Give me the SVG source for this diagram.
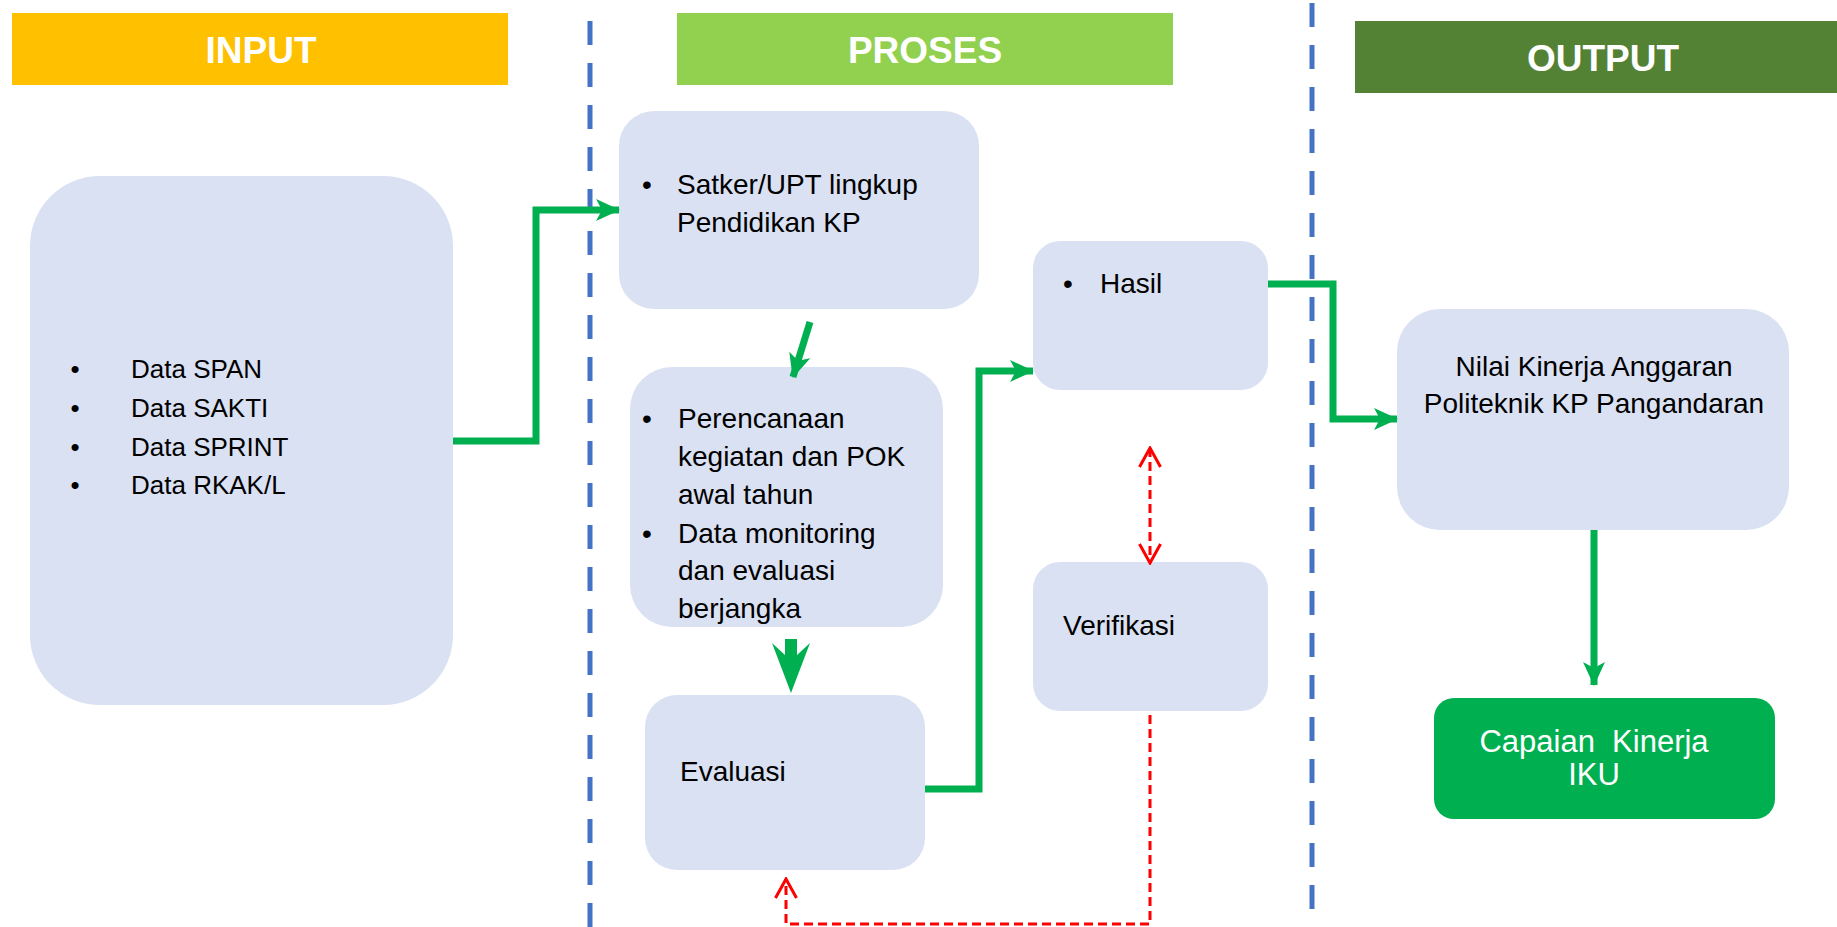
<svg xmlns="http://www.w3.org/2000/svg" width="1837" height="927" viewBox="0 0 1837 927">
<style>
.box{fill:#DAE1F3}
.hdr{font-family:"Liberation Sans",Arial,sans-serif;font-weight:bold;font-size:37px;fill:#fff;text-anchor:middle}
.t{font-family:"Liberation Sans",Arial,sans-serif;font-size:28px;fill:#000}
.ti{font-family:"Liberation Sans",Arial,sans-serif;font-size:26px;fill:#000}
.b{text-anchor:middle}
.g{fill:none;stroke:#00B050;stroke-width:7}
.r{fill:none;stroke:#FF0000;stroke-width:3;stroke-dasharray:9 5}
.sep{stroke:#4472C4;stroke-width:5;stroke-dasharray:24 18}
</style>
<defs>
<marker id="ga" markerUnits="userSpaceOnUse" viewBox="0 0 24 22" refX="23" refY="11" markerWidth="24" markerHeight="22" orient="auto">
<path d="M0,0 L24,11 L0,22 L6,11 Z" fill="#00B050"/>
</marker>
<marker id="ra" markerUnits="userSpaceOnUse" viewBox="0 0 22 24" refX="20" refY="12" markerWidth="22" markerHeight="24" orient="auto-start-reverse">
<path d="M1,1.5 L20,12 L1,22.5" fill="none" stroke="#FF0000" stroke-width="3"/>
</marker>
</defs>
<rect width="1837" height="927" fill="#fff"/>

<g id="separators">
<line class="sep" x1="590" y1="21" x2="590" y2="927"/>
<line class="sep" x1="1312" y1="3" x2="1312" y2="910"/>
</g>

<g id="hdr-input"><rect x="12" y="13" width="496" height="72" fill="#FFC000"/><text class="hdr" x="261" y="63">INPUT</text></g>
<g id="hdr-proses"><rect x="677" y="13" width="496" height="72" fill="#92D050"/><text class="hdr" x="925" y="63">PROSES</text></g>
<g id="hdr-output"><rect x="1355" y="21" width="482" height="72" fill="#548235"/><text class="hdr" x="1603" y="71">OUTPUT</text></g>

<g id="input-box">
<rect class="box" x="30" y="176" width="423" height="529" rx="70" ry="70"/>
<text class="ti b" x="75" y="378">•</text><text class="ti" x="131" y="378">Data SPAN</text>
<text class="ti b" x="75" y="417">•</text><text class="ti" x="131" y="417">Data SAKTI</text>
<text class="ti b" x="75" y="456">•</text><text class="ti" x="131" y="456">Data SPRINT</text>
<text class="ti b" x="75" y="494">•</text><text class="ti" x="131" y="494">Data RKAK/L</text>
</g>

<g id="satker">
<rect class="box" x="619" y="111" width="360" height="198" rx="35" ry="35"/>
<text class="t b" x="647" y="194">•</text>
<text class="t" x="677" y="194">Satker/UPT lingkup</text>
<text class="t" x="677" y="232">Pendidikan KP</text>
</g>

<g id="perencanaan">
<rect class="box" x="630" y="367" width="313" height="260" rx="42" ry="42"/>
<text class="t b" x="647" y="428">•</text>
<text class="t" x="678" y="428">Perencanaan</text>
<text class="t" x="678" y="466">kegiatan dan POK</text>
<text class="t" x="678" y="504">awal tahun</text>
<text class="t b" x="647" y="543">•</text>
<text class="t" x="678" y="543">Data monitoring</text>
<text class="t" x="678" y="580">dan evaluasi</text>
<text class="t" x="678" y="618">berjangka</text>
</g>

<g id="evaluasi">
<rect class="box" x="645" y="695" width="280" height="175" rx="32" ry="32"/>
<text class="t" x="680" y="781">Evaluasi</text>
</g>

<g id="hasil">
<rect class="box" x="1033" y="241" width="235" height="149" rx="27" ry="27"/>
<text class="t b" x="1068" y="293">•</text>
<text class="t" x="1100" y="293">Hasil</text>
</g>

<g id="verifikasi">
<rect class="box" x="1033" y="562" width="235" height="149" rx="27" ry="27"/>
<text class="t" x="1063" y="635">Verifikasi</text>
</g>

<g id="nilai">
<rect class="box" x="1397" y="309" width="392" height="221" rx="43" ry="43"/>
<text class="t b" x="1594" y="376">Nilai Kinerja Anggaran</text>
<text class="t b" x="1594" y="413">Politeknik KP Pangandaran</text>
</g>

<g id="capaian">
<rect x="1434" y="698" width="341" height="121" rx="20" ry="20" fill="#00B050"/>
<text x="1594" y="752" style="white-space:pre" font-family="Liberation Sans, Arial, sans-serif" font-size="31" fill="#fff" text-anchor="middle">Capaian  Kinerja</text>
<text x="1594" y="785" font-family="Liberation Sans, Arial, sans-serif" font-size="31" fill="#fff" text-anchor="middle">IKU</text>
</g>

<g id="connectors">
<path class="g" d="M453,441 H536 V210 H619" marker-end="url(#ga)"/>
<path class="g" d="M810,322 L793,377" marker-end="url(#ga)"/>
<polygon points="785,639 797,639 797,655 810,643 791,693 772,643 785,655" fill="#00B050"/>
<path class="g" d="M925,789 H979 V371 H1033" marker-end="url(#ga)"/>
<path class="g" d="M1268,284 H1333 V419 H1397" marker-end="url(#ga)"/>
<path class="g" d="M1594,530 V685" stroke-width="6" marker-end="url(#ga)"/>
<path class="r" d="M1150,448 V563" marker-start="url(#ra)" marker-end="url(#ra)"/>
<path class="r" d="M1150,715 V924 H786 V879" marker-end="url(#ra)"/>
</g>
</svg>
